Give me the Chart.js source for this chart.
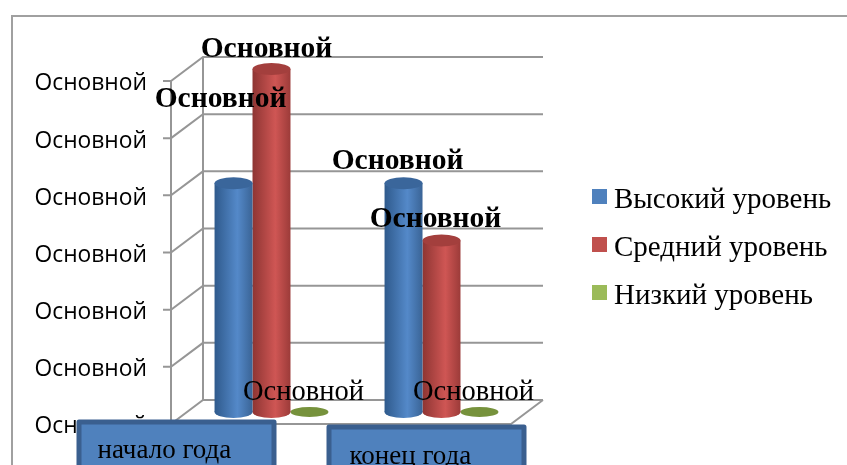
<!DOCTYPE html>
<html>
<head>
<meta charset="utf-8">
<style>
  html, body { margin: 0; background: #fff; }
  canvas { display: block; }
</style>
<script src="https://cdn.jsdelivr.net/npm/chart.js@4"></script>
</head>
<body>
<canvas id="levelChart" width="847" height="465"></canvas>
<script>
const categories = ['начало года', 'конец года'];
const seriesNames = ['Высокий уровень', 'Средний уровень', 'Низкий уровень'];
const highLevel = [4, 4];
const middleLevel = [6, 3];
const lowLevel = [0, 0];
const tickText = 'Основной';
const valueText = 'Основной';

const seriesColors = ['#4f81bd', '#c0504d', '#9bbb59'];
const capColors = ['#3a669b', '#a33f3d', '#76923c'];
const edgeColors = [['#2f5a8c', '#5489c9', '#3a6496'], ['#8e3533', '#cf5654', '#9c3b39'], ['#76923c', '#76923c', '#76923c']];

const serif = '"Liberation Serif", serif';
const DEPTH_X = 32, DEPTH_Y = 24, CAP = 6;

function ellipse(ctx, x, y, rx, ry, fill) {
    ctx.fillStyle = fill;
    ctx.beginPath();
    ctx.ellipse(x, y, rx, ry, 0, 0, Math.PI * 2);
    ctx.fill();
}

function barGradient(ctx, el, i) {
    const g = ctx.createLinearGradient(el.x - el.width / 2, 0, el.x + el.width / 2, 0);
    g.addColorStop(0, edgeColors[i][0]);
    g.addColorStop(0.6, edgeColors[i][1]);
    g.addColorStop(1, edgeColors[i][2]);
    return g;
}

// walls, floor and the frame behind the bars
const wallPlugin = {
    id: 'wall',
    beforeDatasetsDraw(chart) {
        const ctx = chart.ctx;
        const yScale = chart.scales.y;
        const front = function(v) { return yScale.getPixelForValue(v) + 12; };
        const left = 171, right = 511;
        ctx.save();
        ctx.strokeStyle = '#a0a0a0';
        ctx.lineWidth = 2;
        ctx.beginPath();
        ctx.moveTo(12, 465);
        ctx.lineTo(12, 16);
        ctx.lineTo(847, 16);
        ctx.stroke();

        ctx.strokeStyle = '#969696';
        ctx.beginPath();
        [0, 1, 2, 3, 4, 5, 6].forEach(function(v) {
            const y = front(v);
            ctx.moveTo(left - 8, y);
            ctx.lineTo(left, y);
            ctx.lineTo(left + DEPTH_X, y - DEPTH_Y);
            ctx.lineTo(right + DEPTH_X, y - DEPTH_Y);
        });
        const y0 = front(0), y6 = front(6);
        ctx.moveTo(left, y6);
        ctx.lineTo(left, y0);
        ctx.lineTo(right, y0);
        ctx.lineTo(right + DEPTH_X, y0 - DEPTH_Y);
        ctx.moveTo(left + DEPTH_X, y6 - DEPTH_Y);
        ctx.lineTo(left + DEPTH_X, y0 - DEPTH_Y);
        ctx.stroke();
        ctx.restore();
    },
    beforeDatasetDraw(chart, args) {
        const meta = chart.getDatasetMeta(args.index);
        meta.data.forEach(function(el) {
            el.options = Object.assign({}, el.options, { backgroundColor: barGradient(chart.ctx, el, args.index) });
            if (el.height > 0) {
                ellipse(chart.ctx, el.x, el.base, el.width / 2, CAP, barGradient(chart.ctx, el, args.index));
            }
        });
    },
    afterDatasetDraw(chart, args) {
        const meta = chart.getDatasetMeta(args.index);
        meta.data.forEach(function(el) {
            ellipse(chart.ctx, el.x, el.y, el.width / 2, el.height > 0 ? CAP : 5, capColors[args.index]);
        });
    },
    afterDraw(chart) {
        const ctx = chart.ctx;
        ctx.save();

        // value labels, dragged off their bars in the original
        const shifts = [[[-13, -84], [-6, -22]], [[-5, -20], [-6, -21]], [[-6, -20], [-6, -20]]];
        ctx.textAlign = 'center';
        ctx.textBaseline = 'middle';
        ctx.fillStyle = '#000';
        chart.data.datasets.forEach(function(ds, i) {
            ctx.font = (i < 2 ? 'bold 29.5px ' : '28.5px ') + serif;
            chart.getDatasetMeta(i).data.forEach(function(el, j) {
                ctx.fillText(valueText, el.x + shifts[i][j][0], el.y + shifts[i][j][1]);
            });
        });

        // category labels sit in separate text boxes
        const x = chart.scales.x;
        [[-95, 422, 21], [-15, 427, 23]].forEach(function(b, j) {
            const boxLeft = x.getPixelForValue(j) + b[0] - 100;
            ctx.fillStyle = '#4f81bd';
            ctx.strokeStyle = '#3a5f8f';
            ctx.lineWidth = 5;
            ctx.lineJoin = 'round';
            ctx.beginPath();
            ctx.rect(boxLeft + 2.5, b[1], 195, 60);
            ctx.fill();
            ctx.stroke();
            ctx.fillStyle = '#000';
            ctx.textAlign = 'left';
            ctx.font = '27px ' + serif;
            ctx.fillText(categories[j], boxLeft + b[2], b[1] + 29 + j);
        });

        // legend
        ctx.font = '29px ' + serif;
        seriesNames.forEach(function(name, i) {
            const y = 196.5 + i * 48;
            ctx.fillStyle = seriesColors[i];
            ctx.fillRect(592, y - 7.5, 15, 15);
            ctx.fillStyle = '#000';
            ctx.fillText(name, 614, y + 4);
        });
        ctx.restore();
    }
};

document.addEventListener('DOMContentLoaded', function() {
    const ctx = document.getElementById('levelChart').getContext('2d');
    new Chart(ctx, {
        type: 'bar',
        data: {
            labels: categories,
            datasets: [
                { label: seriesNames[0], data: highLevel, backgroundColor: seriesColors[0] },
                { label: seriesNames[1], data: middleLevel, backgroundColor: seriesColors[1] },
                { label: seriesNames[2], data: lowLevel, backgroundColor: seriesColors[2] }
            ]
        },
        plugins: [wallPlugin],
        options: {
            responsive: false,
            animation: false,
            layout: { padding: { left: 0, right: 320.5, top: 69, bottom: 38 } },
            datasets: { bar: { barPercentage: 1, categoryPercentage: 0.67, borderWidth: 0 } },
            plugins: {
                legend: { display: false },
                tooltip: { enabled: false }
            },
            scales: {
                x: { display: false },
                // bars stand on the middle of the floor, tick labels sit a little lower
                y: { display: false, min: -0.262, max: 6 },
                yFront: {
                    position: 'left',
                    min: 0,
                    max: 6.262,
                    afterFit: function(scale) {
                        scale.width = 186.5;
                        scale.paddingTop = 0;
                        scale.paddingBottom = 0;
                    },
                    border: { display: false },
                    grid: { display: false, drawTicks: false },
                    ticks: {
                        stepSize: 1,
                        includeBounds: false,
                        autoSkip: false,
                        padding: 39.5,
                        color: '#000',
                        font: { family: '"Open Sans", sans-serif', size: 22.8 },
                        callback: function() { return tickText; }
                    }
                }
            }
        }
    });
});
</script>
</body>
</html>
